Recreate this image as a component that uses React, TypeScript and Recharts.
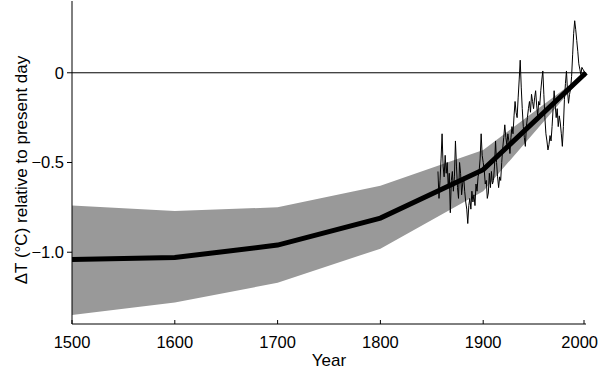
import React from 'react';
import {
  ComposedChart,
  Area,
  Line,
  XAxis,
  YAxis,
  ReferenceLine,
} from 'recharts';

// century reconstruction: mean and uncertainty band
const centuryYears = [1500, 1600, 1700, 1800, 1900, 2000];
const meanAnomaly = [-1.04, -1.03, -0.96, -0.81, -0.54, 0];
const bandUpper = [-0.74, -0.77, -0.75, -0.63, -0.43, 0];
const bandLower = [-1.35, -1.28, -1.17, -0.98, -0.66, 0];

// annual instrumental record, 1856-2000
const firstYear = 1856;
const annualAnomaly = [
  -0.55, -0.7, -0.6, -0.48, -0.34, -0.52, -0.58, -0.46, -0.56, -0.5,
  -0.64, -0.56, -0.78, -0.6, -0.55, -0.66, -0.58, -0.38, -0.52, -0.64,
  -0.7, -0.5, -0.56, -0.68, -0.62, -0.58, -0.66, -0.72, -0.76, -0.84,
  -0.74, -0.7, -0.76, -0.66, -0.72, -0.68, -0.74, -0.62, -0.66, -0.58,
  -0.55, -0.48, -0.34, -0.46, -0.5, -0.54, -0.62, -0.6, -0.7, -0.67,
  -0.56, -0.64, -0.55, -0.62, -0.6, -0.52, -0.38, -0.5, -0.58, -0.64,
  -0.58, -0.6, -0.5, -0.42, -0.36, -0.29, -0.36, -0.4, -0.34, -0.38,
  -0.45, -0.36, -0.3, -0.34, -0.24, -0.16, -0.22, -0.25, -0.14, -0.04,
  0.07, -0.08, -0.2, -0.3, -0.36, -0.41, -0.3, -0.25, -0.2, -0.16,
  -0.22, -0.12, -0.16, -0.2, -0.14, -0.1, -0.18, -0.24, -0.16, -0.18,
  -0.1, -0.04, 0.01, -0.12, -0.25, -0.34, -0.38, -0.43, -0.4, -0.35,
  -0.38, -0.3, -0.2, -0.1, -0.18, -0.25, -0.2, -0.3, -0.24, -0.28,
  -0.34, -0.41, -0.3, -0.15, -0.06, 0.01, -0.1, -0.17, -0.12, -0.09,
  -0.02, 0.1, 0.22, 0.29, 0.24, 0.18, 0.12, 0.05, 0.02, -0.01,
  0.03, 0.02, 0.01, -0.02, 0.0,
];

const xTicks = [1500, 1600, 1700, 1800, 1900, 2000];
const yTicks = [-1.0, -0.5, 0];

const centuryData = centuryYears.map((year, i) => ({
  year,
  mean: meanAnomaly[i],
  band: [bandLower[i], bandUpper[i]],
}));

const annualData = annualAnomaly.map((v, i) => ({ year: firstYear + i, value: v }));

const FONT = '"Liberation Sans", Arial, sans-serif';
const FS = 16.5;

const formatY = (v: number) => (v === 0 ? '0' : '\u2212' + Math.abs(v).toFixed(1));

const YLabel = () => (
  <text
    x={21}
    y={170}
    transform="rotate(-90, 21, 170)"
    textAnchor="middle"
    dominantBaseline="central"
    fontFamily={FONT}
    fontSize={17}
    fill="#000"
  >
    ΔT (°C) relative to present day
  </text>
);

const XLabel = () => (
  <text
    x={329}
    y={360}
    textAnchor="middle"
    dominantBaseline="central"
    fontFamily={FONT}
    fontSize={17}
    fill="#000"
  >
    Year
  </text>
);

// bottom ticks point inward; last label is pulled inside the frame
const XTick = ({ x, y, payload }: any) => {
  const last = payload.value === 2000;
  return (
    <g>
      <line x1={x} y1={y} x2={x} y2={y - 4} stroke="#000" strokeWidth={1} />
      <text
        x={last ? 598 : x}
        y={y + 18}
        textAnchor={last ? 'end' : 'middle'}
        dominantBaseline="central"
        fontFamily={FONT}
        fontSize={FS}
        fill="#000"
      >
        {payload.value}
      </text>
    </g>
  );
};

export default function App() {
  return (
    <div style={{ position: 'absolute', left: 0, top: 0, background: '#fff' }}>
      <ComposedChart
        width={600}
        height={372}
        margin={{ top: 1, right: 14, left: 0, bottom: 0 }}
      >
        <XAxis
          dataKey="year"
          type="number"
          domain={[1500, 2000]}
          ticks={xTicks}
          allowDuplicatedCategory={false}
          height={48}
          tickSize={0}
          tickMargin={0}
          tickLine={false}
          stroke="#000"
          tick={<XTick />}
          label={<XLabel />}
        />
        <XAxis
          xAxisId="top"
          orientation="top"
          type="number"
          domain={[1500, 2000]}
          height={0}
          tick={false}
          tickLine={false}
          stroke="#000"
        />
        <YAxis
          type="number"
          domain={[-1.4, 0.4]}
          ticks={yTicks}
          width={72}
          tickSize={5}
          tickMargin={3}
          stroke="#000"
          tickFormatter={formatY}
          tick={{ fill: '#000', fontSize: FS, fontFamily: FONT }}
          label={<YLabel />}
        />
        <YAxis
          yAxisId="right"
          orientation="right"
          type="number"
          domain={[-1.4, 0.4]}
          width={0}
          tick={false}
          tickLine={false}
          stroke="#000"
        />
        <Area
          data={centuryData}
          dataKey="band"
          type="linear"
          stroke="none"
          fill="#999999"
          fillOpacity={1}
          isAnimationActive={false}
        />
        <ReferenceLine y={0} stroke="#000" strokeWidth={1} />
        <Line
          data={annualData}
          dataKey="value"
          type="linear"
          stroke="#000"
          strokeWidth={1}
          dot={false}
          isAnimationActive={false}
        />
        <Line
          data={centuryData}
          dataKey="mean"
          type="linear"
          stroke="#000"
          strokeWidth={5}
          dot={false}
          isAnimationActive={false}
        />
      </ComposedChart>
    </div>
  );
}
